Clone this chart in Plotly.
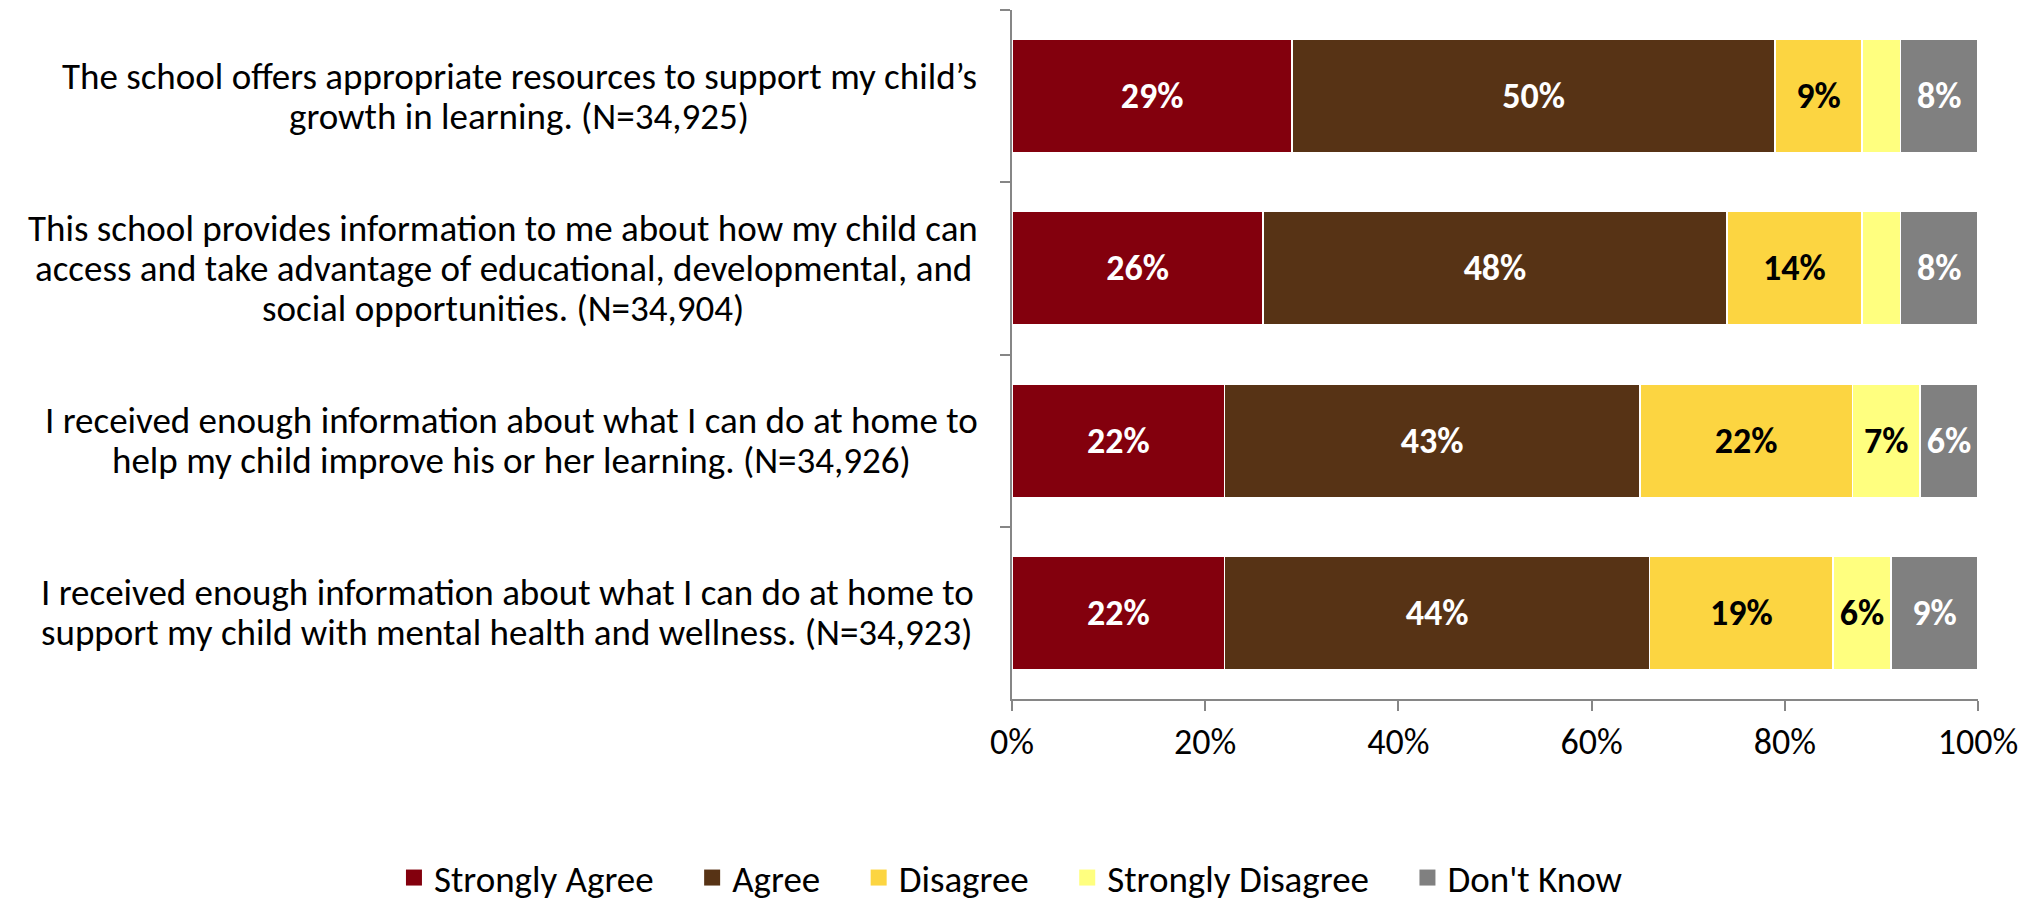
import plotly.graph_objects as go

questions = [
    ["The school offers appropriate resources to support my child’s",
     "growth in learning. (N=34,925)"],
    ["This school provides information to me about how my child can",
     "access and take advantage of educational, developmental, and",
     "social opportunities. (N=34,904)"],
    ["I received enough information about what I can do at home to",
     "help my child improve his or her learning. (N=34,926)"],
    ["I received enough information about what I can do at home to",
     "support my child with mental health and wellness. (N=34,923)"],
]
series_names = ["Strongly Agree", "Agree", "Disagree", "Strongly Disagree", "Don't Know"]
strongly_agree = [29, 26, 22, 22]
agree = [50, 48, 43, 44]
disagree = [9, 14, 22, 19]
strongly_disagree = [4, 4, 7, 6]
dont_know = [8, 8, 6, 9]
x_ticks = [0, 20, 40, 60, 80, 100]
x_tick_labels = ["0%", "20%", "40%", "60%", "80%", "100%"]

series_values = [strongly_agree, agree, disagree, strongly_disagree, dont_know]
colors = ["#83000D", "#573315", "#FCD541", "#FFFF7F", "#808080"]
label_colors = ["white", "white", "black", "black", "white"]

# horizontal offset (px, from plot left edge) of the centre of each label block
label_centre_shift = [-493, -509, -501, -505]

FONT = "Calibri, Carlito, Lato, sans-serif"
categories = [" ".join(q) for q in questions]

fig = go.Figure()
for name, vals, col, lc in zip(series_names, series_values, colors, label_colors):
    fig.add_trace(go.Bar(
        name=name,
        y=categories,
        x=vals,
        orientation="h",
        marker=dict(color=col, line=dict(color="white", width=1.5)),
        text=[f"{v}%" if v >= 5 else "" for v in vals],
        textposition="inside",
        insidetextanchor="middle",
        textangle=0,
        textfont=dict(family=FONT, size=36, color=lc, weight="bold"),
        hoverinfo="skip",
        showlegend=False,
    ))

# legend entries with larger square symbols
PAD = "\u00a0" * 4
for k, (name, col) in enumerate(zip(series_names, colors)):
    fig.add_trace(go.Scatter(
        name=name + (PAD if k < len(series_names) - 1 else ""),
        x=[None], y=[None], mode="markers",
        marker=dict(symbol="square", size=18, color=col),
        showlegend=True, hoverinfo="skip",
    ))

LINE_H = 40
for cat, lines, cx in zip(categories, questions, label_centre_shift):
    n = len(lines)
    for i, line in enumerate(lines):
        fig.add_annotation(
            x=0, xref="paper", y=cat, yref="y",
            text=line, showarrow=False, xanchor="center", yanchor="middle",
            xshift=cx, yshift=((n - 1) / 2 - i) * LINE_H, align="center",
            font=dict(family=FONT, size=37, color="black"),
        )

fig.update_layout(
    barmode="stack",
    bargap=0.34,
    width=2028, height=895,
    margin=dict(l=1004, r=58, t=2, b=204, autoexpand=False),
    paper_bgcolor="white", plot_bgcolor="white",
    font=dict(family=FONT, size=36, color="black"),
    showlegend=True,
    legend=dict(
        orientation="h", xref="paper", yref="paper",
        x=-0.6398, xanchor="left", y=-0.2598, yanchor="middle",
        font=dict(family=FONT, size=37, color="black"),
        traceorder="normal", itemwidth=30,
    ),
    xaxis=dict(
        range=[0, 100], tickvals=x_ticks, ticktext=x_tick_labels,
        showgrid=False, zeroline=False,
        showline=True, linecolor="#868686", linewidth=1.5,
        ticks="outside", ticklen=10, tickcolor="#868686", tickwidth=1.5,
        tickfont=dict(family=FONT, size=36, color="black"),
    ),
    yaxis=dict(
        autorange="reversed", showticklabels=False, showgrid=False,
        showline=True, linecolor="#868686", linewidth=1.5,
        ticks="outside", tickson="boundaries", ticklen=10,
        tickcolor="#868686", tickwidth=1.5,
    ),
)

fig.write_html("out.html")
